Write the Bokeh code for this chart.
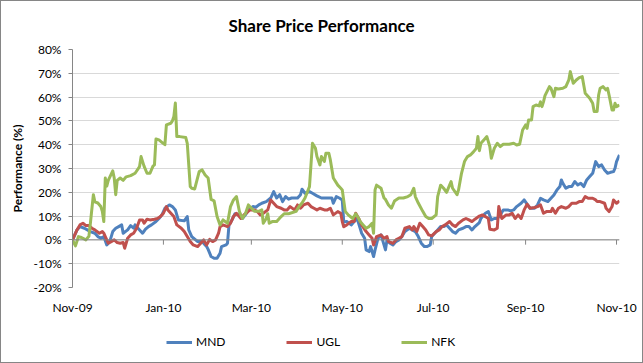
import pandas as pd
from bokeh.plotting import figure
from bokeh.layouts import column
from bokeh.models import (Range1d, FixedTicker, PrintfTickFormatter, DatetimeTickFormatter,
                          Legend, LegendItem, Span, ColumnDataSource)
from bokeh.embed import file_html
from bokeh.resources import INLINE

# ---------------- data ----------------
start_date = "2009-11-01"
axis_days = 367
tick_dates = ["2009-11-01", "2010-01-01", "2010-03-01", "2010-05-01",
              "2010-07-01", "2010-09-01", "2010-11-01"]
y_ticks = [-20, -10, 0, 10, 20, 30, 40, 50, 60, 70, 80]

series_names = ["MND", "UGL", "NFK"]
series_colors = ["#4F81BD", "#C0504D", "#9BBB59"]

mnd_days = [0, 1, 3, 5, 8, 10, 12, 15, 17, 19, 21, 23, 25, 27, 29, 31, 33, 34, 37, 39, 41, 42, 45, 47, 49,
            51, 53, 56, 58, 60, 62, 65, 67, 69, 71, 75, 77, 78, 80, 84, 87, 89, 90, 91, 93, 95, 97, 99,
            100, 103, 104, 105, 107, 109, 112, 114, 116, 118, 121, 123, 125, 127, 130, 133, 135, 137,
            139, 141, 143, 145, 147, 151, 153, 154, 156, 159, 161, 164, 167, 171, 174, 175, 177, 179,
            181, 182, 184, 187, 189, 191, 193, 194, 196, 197, 199, 200, 202, 203, 205, 207, 208, 210,
            211, 213, 215, 217, 219, 221, 223, 226, 228, 230, 232, 234, 236, 238, 240, 241, 243, 245,
            247, 249, 251, 253, 255, 257, 259, 262, 264, 266, 268, 270, 273, 274, 275, 277, 279, 281,
            283, 285, 287, 289, 292, 294, 296, 298, 301, 303, 305, 307, 310, 312, 314, 316, 319, 321,
            323, 325, 327, 328, 329, 331, 333, 335, 337, 339, 341, 343, 345, 347, 349, 351, 353, 355,
            357, 359, 361, 363, 364, 365, 367]
mnd_vals = [0, 1.4, 4.2, 5.6, 4.9, 4.2, 3.5, 2.8, 1.4, 0.7, 1.4, -2.1, -0.7, 3.5, 4.9, 5.6, 6.3, 2.8, 4.2,
            6.0, 4.9, 6.3, 4.2, 2.8, 4.5, 5.6, 6.3, 7.7, 9.0, 10.5, 13.3, 14.7, 14.0, 12.6, 8.4, 8.0, 9.8,
            4.2, 1.4, -0.7, -0.7, -2.1, -2.8, -4.0, -7.0, -7.7, -7.7, -5.6, -2.8, -2.1, -1.4, 6.3, 8.4,
            11.0, 10.5, 9.0, 10.5, 12.6, 14.0, 13.7, 14.7, 15.4, 16.1, 17.6, 20.3, 17.6, 19.0, 16.1,
            18.2, 17.1, 17.6, 17.6, 19.0, 21.3, 19.6, 20.3, 19.6, 18.5, 17.6, 17.6, 17.6, 15.4, 18.2,
            17.6, 16.8, 7.5, 7.7, 6.3, 7.7, 9.0, 4.9, 2.8, 0.7, -4.2, -4.9, -2.8, -7.0, -4.2, 0.7, 2.1,
            0.0, -4.2, 0.0, -1.4, -2.1, -0.7, 0.0, 1.4, 3.5, 4.9, 4.2, 3.5, 1.4, -1.4, -2.8, -2.8, -2.1,
            1.4, 2.8, 4.2, 5.6, 5.6, 6.3, 4.9, 3.5, 2.8, 4.2, 4.9, 5.6, 5.6, 4.2, 5.6, 7.3, 9.0, 9.8,
            11.2, 11.9, 8.4, 9.0, 9.0, 10.5, 12.6, 12.6, 12.2, 12.6, 14.0, 15.4, 16.8, 15.0, 13.3, 13.3,
            14.7, 17.5, 16.8, 16.1, 17.5, 18.9, 21.0, 22.4, 25.2, 23.8, 21.7, 22.4, 22.4, 24.5, 23.1,
            23.8, 22.4, 25.2, 26.6, 28.0, 32.9, 30.8, 31.5, 29.4, 28.0, 28.4, 28.7, 30.1, 32.9, 35.7]

ugl_days = [0, 1, 3, 5, 7, 9, 11, 13, 15, 18, 20, 21, 22, 24, 26, 28, 30, 32, 34, 35, 37, 39, 41, 43, 45,
            47, 48, 50, 52, 55, 57, 59, 61, 63, 64, 66, 68, 70, 73, 75, 77, 79, 81, 84, 86, 88, 90, 92,
            94, 96, 98, 99, 101, 104, 106, 108, 110, 113, 115, 117, 119, 122, 124, 126, 128, 131, 133,
            135, 137, 140, 142, 144, 146, 149, 151, 153, 155, 158, 160, 162, 164, 166, 169, 171, 173,
            175, 178, 180, 181, 182, 184, 187, 189, 190, 192, 194, 197, 199, 201, 202, 204, 207, 209,
            211, 212, 215, 217, 219, 221, 223, 226, 228, 229, 231, 233, 235, 237, 239, 241, 244, 246,
            248, 250, 253, 255, 257, 259, 262, 264, 266, 268, 270, 273, 275, 277, 279, 280, 283, 285,
            286, 288, 291, 293, 295, 297, 299, 301, 303, 305, 307, 310, 312, 314, 316, 318, 321, 322,
            324, 326, 328, 331, 333, 335, 338, 340, 342, 344, 346, 349, 351, 352, 354, 357, 358, 360,
            362, 363, 365, 367]
ugl_vals = [0, 1.4, 4.2, 6.3, 7.0, 6.0, 6.0, 4.9, 4.2, 2.8, 3.5, 2.8, 1.4, -1.4, -0.7, 0.0, -1.1, -1.4,
            -1.1, -3.5, 0.7, 2.1, 2.8, 4.9, 8.4, 8.4, 7.0, 8.7, 8.4, 8.7, 9.0, 9.8, 11.2, 14.0, 12.6,
            11.2, 9.8, 6.3, 4.9, 3.5, 1.4, -0.7, -2.1, -2.8, -1.4, 0.0, -2.1, 0.2, -0.7, 0.0, 2.8, 5.6,
            6.3, 5.6, 7.0, 9.8, 11.2, 9.0, 10.5, 11.5, 12.6, 12.6, 11.9, 10.5, 11.2, 12.6, 16.8, 15.4,
            14.0, 13.3, 12.6, 12.6, 14.0, 12.6, 14.7, 13.3, 14.7, 15.4, 14.0, 13.3, 12.6, 13.3, 12.6,
            12.6, 13.3, 10.5, 11.9, 11.2, 7.7, 5.5, 6.3, 7.7, 7.7, 11.2, 9.0, 6.3, 3.5, 2.1, 0.7, -2.1,
            1.4, 2.1, 0.7, 1.4, -0.7, -1.4, 0.0, 0.7, 1.4, 4.9, 5.6, 4.2, 5.6, 3.5, 7.0, 5.6, 4.2, 2.1,
            1.7, 3.5, 4.2, 5.6, 6.3, 7.7, 6.3, 5.6, 7.0, 8.4, 9.0, 8.4, 7.7, 8.7, 10.0, 10.5, 9.8, 9.0,
            4.5, 4.2, 4.9, 14.0, 9.0, 10.5, 10.5, 11.2, 9.0, 10.5, 9.0, 12.6, 15.0, 13.3, 13.6, 14.0,
            14.7, 11.2, 11.9, 11.9, 13.3, 11.2, 13.3, 14.0, 13.3, 14.0, 15.4, 15.4, 16.1, 16.1, 18.2,
            17.5, 17.5, 16.8, 16.1, 16.1, 15.4, 13.3, 11.9, 14.0, 16.8, 15.4, 16.4]

nfk_days = [0, 2, 4, 6, 9, 11, 12, 14, 15, 17, 19, 20, 21, 22, 23, 24, 27, 28, 29, 30, 32, 34, 36, 39,
            42, 45, 46, 48, 50, 52, 54, 55, 56, 58, 60, 62, 63, 66, 67, 68, 69, 70, 72, 76, 77, 79, 80,
            82, 85, 87, 89, 91, 93, 95, 97, 99, 101, 104, 106, 108, 110, 112, 114, 116, 118, 119, 122,
            125, 127, 128, 130, 131, 132, 134, 137, 140, 142, 145, 150, 152, 154, 156, 159, 160, 161,
            163, 164, 166, 167, 169, 170, 172, 173, 175, 178, 180, 181, 183, 185, 188, 190, 192, 193,
            195, 197, 199, 201, 202, 203, 204, 207, 209, 210, 212, 214, 216, 219, 222, 225, 227, 229,
            230, 232, 235, 237, 239, 241, 244, 245, 247, 249, 251, 253, 254, 255, 258, 259, 261, 263,
            265, 267, 269, 271, 272, 273, 274, 276, 278, 280, 281, 283, 285, 287, 289, 293, 296, 298,
            300, 302, 304, 305, 306, 308, 309, 311, 313, 314, 315, 316, 317, 320, 321, 323, 324, 326,
            329, 331, 333, 334, 336, 338, 340, 342, 343, 344, 347, 349, 350, 352, 353, 354, 356, 358,
            359, 360, 362, 363, 364, 365, 367]
nfk_vals = [0, -2.5, 1.4, 1.0, 0.0, 1.5, 7.0, 19.0, 16.0, 15.5, 14.0, 12.0, 7.7, 26.0, 22.6, 25.0, 29.0,
            26.0, 19.0, 25.0, 26.0, 25.0, 26.5, 27.0, 28.0, 30.8, 35.0, 31.0, 28.0, 28.0, 31.0, 31.5,
            42.4, 42.0, 41.0, 40.0, 48.3, 49.0, 50.0, 51.8, 57.5, 43.4, 43.4, 43.0, 40.6, 22.4, 21.7,
            21.4, 28.7, 29.4, 27.3, 26.0, 17.0, 16.4, 9.8, 6.3, 8.4, 7.0, 14.0, 16.8, 18.2, 11.9, 9.0,
            11.0, 14.7, 14.0, 12.0, 12.0, 12.6, 7.0, 9.0, 11.0, 7.0, 7.7, 7.7, 9.8, 11.0, 11.0, 12.0,
            14.0, 15.5, 17.6, 22.4, 31.5, 40.6, 38.5, 35.0, 31.5, 35.0, 33.0, 36.4, 36.4, 33.6, 26.0,
            23.0, 21.7, 21.0, 12.0, 10.5, 9.0, 11.0, 9.0, 7.7, 6.3, 4.9, 5.6, 7.0, 2.8, 21.0, 23.0,
            21.7, 17.6, 17.0, 14.7, 13.3, 16.3, 17.6, 17.6, 18.2, 19.0, 21.7, 18.2, 15.5, 12.0, 9.8,
            9.0, 9.0, 10.5, 18.2, 23.0, 21.7, 20.0, 23.0, 24.5, 21.7, 19.0, 21.0, 28.0, 32.9, 35.0,
            35.7, 37.0, 38.5, 43.4, 37.5, 40.6, 42.0, 43.4, 39.2, 34.3, 38.5, 40.6, 39.2, 40.2, 40.2,
            40.6, 39.9, 40.2, 46.2, 48.3, 46.9, 50.4, 50.4, 56.0, 56.7, 56.3, 58.0, 56.0, 58.0, 60.6,
            64.4, 63.7, 60.2, 63.7, 63.4, 63.7, 64.4, 67.2, 70.7, 65.8, 67.2, 68.2, 68.6, 65.1, 61.6,
            59.5, 57.4, 54.0, 54.0, 60.9, 63.7, 64.4, 63.0, 63.7, 60.9, 54.6, 54.6, 57.4, 56.0, 56.7]

# ---------------- figure ----------------
t0 = pd.Timestamp(start_date)


def to_dates(days):
    return [t0 + pd.Timedelta(days=d) for d in days]


FONT = "Lato"
AXIS_GRAY = "#868686"

p = figure(frame_width=547, frame_height=238, output_backend="svg", toolbar_location=None,
           x_axis_type="datetime",
           x_range=Range1d(t0, t0 + pd.Timedelta(days=axis_days)),
           y_range=Range1d(y_ticks[0], y_ticks[-1]),
           min_border_left=71, min_border_right=23, min_border_top=48, min_border_bottom=35)
p.outline_line_color = None
p.background_fill_color = "white"
p.border_fill_color = "white"

p.title.text = "Share Price Performance"
p.title.text_font = FONT
p.title.text_font_size = "17px"
p.title.text_font_style = "bold"
p.title.align = "left"
p.title.offset = 156
p.title.vertical_align = "top"
p.title.standoff = 24
p.title.text_color = "black"

# y axis
p.yaxis.ticker = FixedTicker(ticks=y_ticks)
p.yaxis.formatter = PrintfTickFormatter(format="%d%%")
p.yaxis.axis_line_color = AXIS_GRAY
p.yaxis.major_tick_line_color = AXIS_GRAY
p.yaxis.major_tick_out = 4
p.yaxis.major_tick_in = 0
p.yaxis.minor_tick_line_color = None
p.yaxis.major_label_text_font = FONT
p.yaxis.major_label_text_font_size = "12px"
p.yaxis.major_label_text_color = "black"
p.yaxis.major_label_standoff = 7
p.yaxis.axis_label = "Performance (%)"
p.yaxis.axis_label_text_font = FONT
p.yaxis.axis_label_text_font_size = "12px"
p.yaxis.axis_label_text_font_style = "bold"
p.yaxis.axis_label_text_color = "black"
p.yaxis.axis_label_standoff = 6

# x axis (labels at the bottom, line at 0%)
tick_ts = [pd.Timestamp(d) for d in tick_dates]
p.xaxis.ticker = FixedTicker(ticks=[t.value / 1e6 for t in tick_ts])
p.xaxis.formatter = DatetimeTickFormatter(days="%b-%y", months="%b-%y", years="%b-%y")
p.xaxis.axis_line_color = None
p.xaxis.major_tick_line_color = None
p.xaxis.minor_tick_line_color = None
p.xaxis.major_label_text_font = FONT
p.xaxis.major_label_text_font_size = "12px"
p.xaxis.major_label_text_color = "black"
p.xaxis.major_label_standoff = 6

p.xgrid.grid_line_color = None
p.ygrid.ticker = FixedTicker(ticks=y_ticks)
p.ygrid.grid_line_color = "#d9d9d9"
p.ygrid.grid_line_width = 1

p.add_layout(Span(location=0, dimension="width", line_color=AXIS_GRAY, line_width=1))
p.segment(x0=tick_ts, y0=[0] * len(tick_ts), x1=tick_ts, y1=[-2] * len(tick_ts),
          line_color=AXIS_GRAY, line_width=1)

series_days = [mnd_days, ugl_days, nfk_days]
series_vals = [mnd_vals, ugl_vals, nfk_vals]
for name, color, days, vals in zip(series_names, series_colors, series_days, series_vals):
    src = ColumnDataSource(dict(x=to_dates(days), y=vals))
    p.line("x", "y", source=src, line_color=color, line_width=3, line_join="round")

# ---------------- legend strip (below the chart) ----------------
# the same series are drawn here outside the visible range, so only the legend shows
leg = figure(width=641, height=40, output_backend="svg", toolbar_location=None,
             x_axis_location=None, y_axis_location=None, min_border=0,
             x_range=Range1d(0, 1), y_range=Range1d(0, 1))
leg.outline_line_color = None
leg.grid.grid_line_color = None
leg.background_fill_color = "white"
leg.border_fill_color = "white"
leg_renderers = []
for color, days, vals in zip(series_colors, series_days, series_vals):
    src = ColumnDataSource(dict(x=to_dates(days), y=vals))
    leg_renderers.append(leg.line("x", "y", source=src, line_color=color, line_width=3))

legend = Legend(items=[LegendItem(label=n, renderers=[r]) for n, r in zip(series_names, leg_renderers)],
                orientation="horizontal", location=(94, 13))
legend.glyph_width = 26
legend.glyph_height = 14
legend.label_height = 14
legend.label_standoff = 4
legend.spacing = 61
legend.padding = 0
legend.margin = 0
legend.border_line_color = None
legend.background_fill_alpha = 0
legend.label_text_font = FONT
legend.label_text_font_size = "12px"
legend.label_text_color = "black"
leg.add_layout(legend, "center")

layout = column(p, leg, spacing=0)
layout.styles = {"border": "1px solid #868686"}

open("out.html", "w").write(file_html(layout, INLINE))
